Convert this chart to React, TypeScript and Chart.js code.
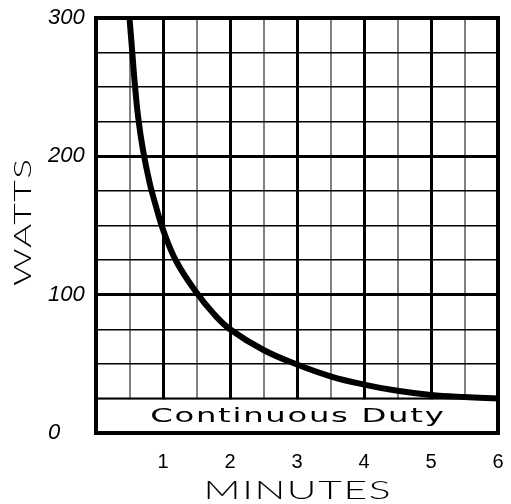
import { useEffect, useRef } from "react";
import { Chart, registerables } from "chart.js";
Chart.register(...registerables);

const minutes = [0.5, 0.54, 0.58, 0.63, 0.7, 0.8, 0.9, 1, 1.2, 1.5, 1.75, 2, 2.5, 3, 3.5, 4, 4.5, 5, 5.5, 6];
const watts = [300, 276, 252, 228, 205, 181, 163, 147, 124, 101.5, 86.5, 75, 60, 49.5, 41, 35, 30.5, 27.5, 26, 25];
const xTickLabels = ["1", "2", "3", "4", "5", "6"];
const yTickLabels = ["0", "100", "200", "300"];
const bandLimit = 25;
const bandLabel = "Continuous Duty";
const xTitle = "MINUTES";
const yTitle = "WATTS";

function drawWide(ctx: CanvasRenderingContext2D, text: string, targetWidth: number, font: string, spacing: number) {
  ctx.font = font;
  (ctx as any).letterSpacing = spacing + "px";
  const w = ctx.measureText(text).width - spacing;
  const sx = targetWidth / w;
  ctx.save();
  ctx.scale(sx, 1);
  ctx.textAlign = "left";
  ctx.textBaseline = "middle";
  ctx.fillText(text, -w / 2, 0);
  ctx.restore();
  (ctx as any).letterSpacing = "0px";
}

const framePlugin = {
  id: "frame",
  beforeDatasetsDraw(chart: any) {
    const { ctx, chartArea } = chart;
    const y = chart.scales.y;
    const yb = y.getPixelForValue(bandLimit);
    ctx.save();
    ctx.fillStyle = "#ffffff";
    ctx.fillRect(chartArea.left, yb + 1, chartArea.right - chartArea.left, chartArea.bottom - yb - 1);
    ctx.strokeStyle = "#000";
    ctx.lineWidth = 2;
    ctx.beginPath();
    ctx.moveTo(chartArea.left, yb);
    ctx.lineTo(chartArea.right, yb);
    ctx.stroke();
    ctx.lineWidth = 4;
    ctx.strokeRect(chartArea.left, chartArea.top, chartArea.right - chartArea.left, chartArea.bottom - chartArea.top);
    ctx.fillStyle = "#000";
    ctx.translate((chartArea.left + chartArea.right) / 2, (yb + chartArea.bottom) / 2 + 1);
    drawWide(ctx, bandLabel, (chartArea.right - chartArea.left) * 0.73, '19px "DejaVu Sans"', 1);
    ctx.restore();
  },
  afterDraw(chart: any) {
    const { ctx, chartArea } = chart;
    ctx.save();
    ctx.fillStyle = "#000";
    ctx.save();
    ctx.translate((chartArea.left + chartArea.right) / 2, 491);
    drawWide(ctx, xTitle, 187, '300 25px Lato', 1);
    ctx.restore();
    ctx.save();
    ctx.translate(23, (chartArea.top + chartArea.bottom) / 2 - 3);
    ctx.rotate(-Math.PI / 2);
    drawWide(ctx, yTitle, 127, '300 24px Lato', 1);
    ctx.restore();
    ctx.restore();
  },
};

export default function App() {
  const ref = useRef<HTMLCanvasElement>(null);
  useEffect(() => {
    if (!ref.current) return;
    const chart = new Chart(ref.current, {
      type: "line",
      data: {
        datasets: [
          {
            data: minutes.map((m, i) => ({ x: m, y: watts[i] })),
            borderColor: "#000",
            borderWidth: 6,
            pointRadius: 0,
            tension: 0.4,
            fill: false,
          },
        ],
      },
      options: {
        animation: false,
        responsive: false,
        layout: { padding: { left: 48, top: 18, right: 13, bottom: 0 } },
        plugins: { legend: { display: false }, tooltip: { enabled: false } },
        scales: {
          x: {
            type: "linear",
            min: 0,
            max: 6,
            afterFit: (s: any) => {
              s.height = 71;
              s.paddingRight = 0;
              s.paddingLeft = 0;
            },
            border: { display: false },
            grid: {
              drawTicks: false,
              color: (c: any) => (Number.isInteger(c.tick.value) ? "#000" : "#808080"),
              lineWidth: (c: any) => (Number.isInteger(c.tick.value) ? 3 : 2),
            },
            ticks: {
              stepSize: 0.5,
              autoSkip: false,
              maxRotation: 0,
              padding: 17,
              color: "#000",
              font: { family: '"Liberation Sans"', size: 20 },
              callback: (v: any) => {
                const s = String(v);
                return xTickLabels.includes(s) ? s : "";
              },
            },
          },
          y: {
            min: 0,
            max: 300,
            afterFit: (s: any) => {
              s.width = 48;
              s.paddingTop = 0;
              s.paddingBottom = 0;
            },
            border: { display: false },
            grid: {
              drawTicks: false,
              color: "#000",
              lineWidth: (c: any) => (c.tick.value % 100 === 0 ? 3 : 1.5),
            },
            ticks: {
              stepSize: 25,
              autoSkip: false,
              crossAlign: "far",
              color: "#000",
              font: { family: '"Liberation Sans"', size: 22, style: "italic" },
              callback: (v: any) => {
                const s = String(v);
                return yTickLabels.includes(s) ? s : "";
              },
            },
          },
        },
      },
      plugins: [framePlugin],
    } as any);
    return () => chart.destroy();
  }, []);
  return (
    <div style={{ position: "absolute", left: 0, top: 0, width: 511, height: 504 }}>
      <canvas ref={ref} width={511} height={504} />
    </div>
  );
}
